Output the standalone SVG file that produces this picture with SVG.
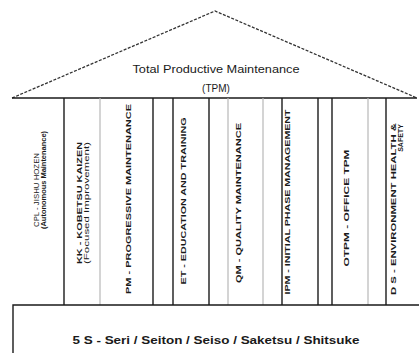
<svg xmlns="http://www.w3.org/2000/svg" width="419" height="353" viewBox="0 0 419 353">
<style>
.t{font-family:"Liberation Sans",Arial,sans-serif;fill:#1a1a1a}
.p{font-family:"Liberation Sans",Arial,sans-serif;fill:#1a1a1a;font-size:7px;text-anchor:middle}
.b{font-weight:bold}
.d{stroke:#1a1a1a;stroke-width:1.4;fill:none}
.l{stroke:#b8b8b8;stroke-width:1.2;fill:none}
</style>
<rect width="419" height="353" fill="#ffffff"/>
<g id="roof">
<polyline points="12,98 215,11 417,98" fill="none" stroke="#333" stroke-width="1.3" stroke-dasharray="3,1.5"/>
<line x1="12" y1="98" x2="417" y2="98" class="d"/>
<text class="t" x="216" y="73" font-size="10" text-anchor="middle" textLength="167" lengthAdjust="spacingAndGlyphs">Total Productive Maintenance</text>
<text class="t" x="216" y="92" font-size="10" text-anchor="middle">(TPM)</text>
</g>
<g id="connectors">
<line x1="64" y1="98" x2="64" y2="305" class="d"/>
<line x1="100" y1="98" x2="100" y2="305" class="l"/>
<line x1="153" y1="98" x2="153" y2="305" class="d"/>
<line x1="173" y1="98" x2="173" y2="305" class="d"/>
<line x1="209" y1="98" x2="209" y2="305" class="d"/>
<line x1="228" y1="98" x2="228" y2="305" class="l"/>
<line x1="263" y1="98" x2="263" y2="305" class="l"/>
<line x1="282" y1="98" x2="282" y2="305" class="d"/>
<line x1="318" y1="98" x2="318" y2="305" class="d"/>
<line x1="332" y1="98" x2="332" y2="305" class="d"/>
<line x1="368" y1="98" x2="368" y2="305" class="l"/>
<line x1="386" y1="98" x2="386" y2="305" class="d"/>
</g>
<g id="jh">
<text class="p" transform="translate(38.5,190) rotate(-90)" textLength="74" lengthAdjust="spacingAndGlyphs">CPL - JISHU HOZEN</text>
<text class="p b" transform="translate(45.5,180) rotate(-90)" textLength="98" lengthAdjust="spacingAndGlyphs">(Autonomous Maintenance)</text>
</g>
<g id="kk">
<text class="p b" transform="translate(82,203) rotate(-90)" textLength="122" lengthAdjust="spacingAndGlyphs">KK - KOBETSU KAIZEN</text>
<text class="p" font-size="5.5" transform="translate(88.5,203) rotate(-90)" textLength="122" lengthAdjust="spacingAndGlyphs">(Focused Improvement)</text>
</g>
<g id="pm">
<text class="p b" transform="translate(131,199) rotate(-90)" textLength="190" lengthAdjust="spacingAndGlyphs">PM - PROGRESSIVE MAINTENANCE</text>
</g>
<g id="et">
<text class="p b" transform="translate(185.5,201) rotate(-90)" textLength="167" lengthAdjust="spacingAndGlyphs">ET - EDUCATION AND TRAINING</text>
</g>
<g id="qm">
<text class="p b" transform="translate(240.5,203) rotate(-90)" textLength="160" lengthAdjust="spacingAndGlyphs">QM - QUALITY MAINTENANCE</text>
</g>
<g id="ipm">
<text class="p b" transform="translate(289.5,202) rotate(-90)" textLength="185" lengthAdjust="spacingAndGlyphs">IPM - INITIAL PHASE MANAGEMENT</text>
</g>
<g id="otpm">
<text class="p b" transform="translate(349,208) rotate(-90)" textLength="117" lengthAdjust="spacingAndGlyphs">OTPM - OFFICE TPM</text>
</g>
<g id="ehs">
<text class="p b" transform="translate(396,209) rotate(-90)" textLength="172" lengthAdjust="spacingAndGlyphs">D S - ENVIRONMENT HEALTH &amp;</text>
<text class="p b" transform="translate(403,138) rotate(-90)">SAFETY</text>
</g>
<g id="base">
<polyline points="13,353 13,305 419,305" class="d"/>
<text class="t b" x="216" y="344" font-size="10.5" text-anchor="middle" textLength="287" lengthAdjust="spacingAndGlyphs">5 S - Seri / Seiton / Seiso / Saketsu / Shitsuke</text>
</g>
</svg>
